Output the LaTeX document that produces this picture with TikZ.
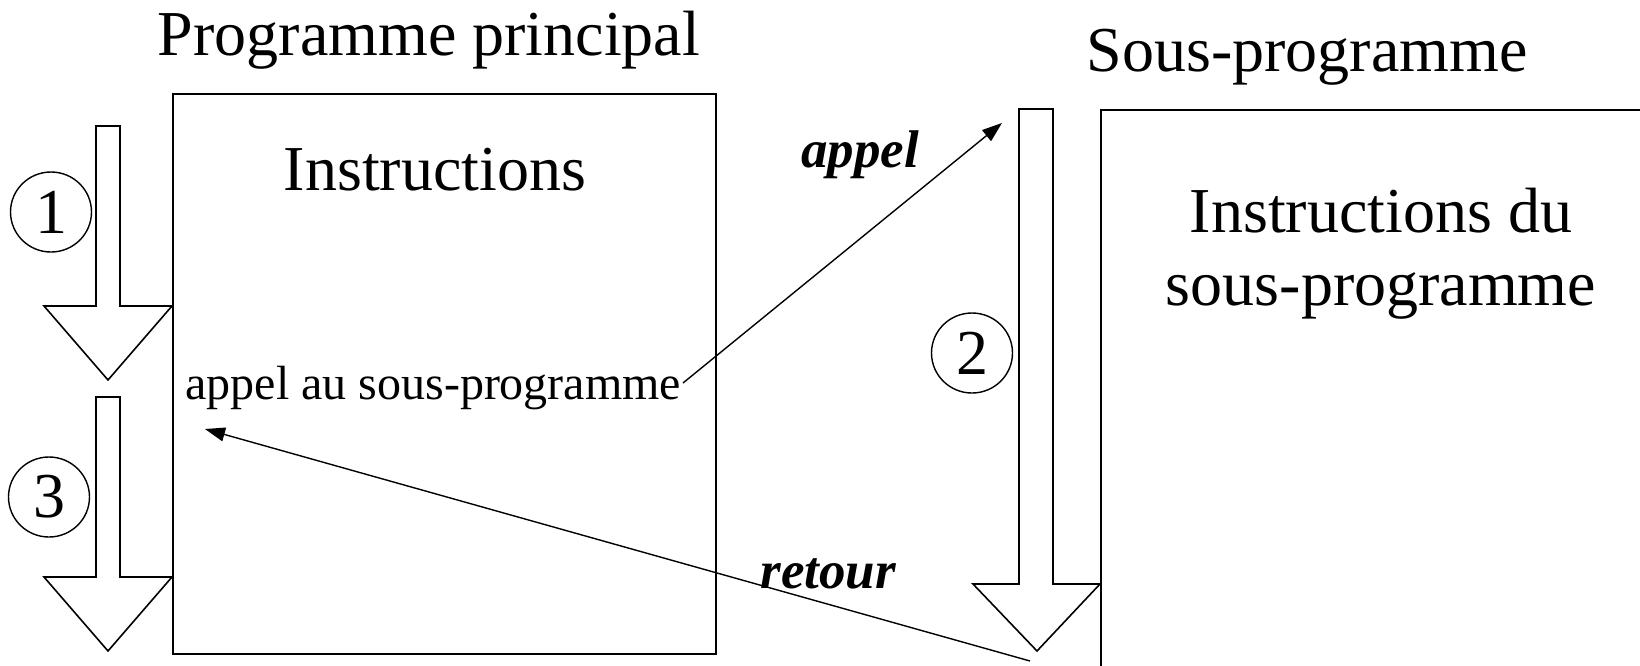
\documentclass[tikz,border=0pt]{standalone}
\usepackage{fontspec}
\setmainfont{Liberation Serif}
\usetikzlibrary{arrows.meta,shapes.geometric}
\begin{document}
\begin{tikzpicture}[x=0.5pt,y=-0.5pt,
  box/.style={draw, line width=1.1pt, inner sep=0pt},
  blockarrow/.style={draw, line width=0.8pt, miter limit=10, fill=white},
  num/.style={draw, ellipse, line width=0.7pt, minimum width=40.5pt, minimum height=40pt, inner sep=0pt, font=\fontsize{32}{32}\selectfont},
  title/.style={font=\fontsize{32}{32}\selectfont, inner sep=0pt, anchor=base},
  arrlabel/.style={font=\fontsize{26.5}{26.5}\selectfont\bfseries\itshape, inner sep=0pt, anchor=base west},
  conn/.style={line width=0.7pt, -{Triangle[length=10pt,width=7pt]}}
]
\useasboundingbox (0,0) rectangle (1640,665);
\clip (0,0) rectangle (1640,665);
% titles
\node[title] (tmain) at (429,55) {Programme principal};
\node[title] (tsub) at (1307,71) {Sous-programme};
% boxes
\node[box, minimum width=271.5pt, minimum height=280pt, anchor=north west] (main) at (172,93) {};
\node[box, minimum width=300pt, minimum height=300pt, anchor=north west] (sub) at (1100,109) {};
% block arrows
\draw[blockarrow] (96,126) -- (120,126) -- (120,306) -- (172,306) -- (108,380) -- (44,306) -- (96,306) -- cycle;
\draw[blockarrow] (96,397) -- (120,397) -- (120,577) -- (172,577) -- (108,651) -- (44,577) -- (96,577) -- cycle;
\draw[blockarrow] (1019,109) -- (1053,109) -- (1053,584) -- (1100,584) -- (1037,651) -- (973,584) -- (1019,584) -- cycle;
% numbers
\node[num] (n1) at (51,212) {1};
\node[num] (n3) at (49,497) {3};
\node[num] (n2) at (972,353) {2};
% texts
\node[title] (instr) at (435,190) {Instructions};
\node[title] (instr2a) at (1381,232) {Instructions du};
\node[title] (instr2b) at (1381,305) {sous-programme};
\node[font=\fontsize{24}{24}\selectfont, inner sep=0pt, anchor=base west] (call) at (185,399) {appel au sous-programme};
\node[arrlabel] (lappel) at (801,167) {appel};
\node[arrlabel] (lretour) at (760,588) {retour};
% connectors
\coordinate (callend) at (683,383);
\coordinate (subtop) at (1002,123);
\coordinate (retstart) at (1030,661);
\coordinate (retend) at (205,429);
\draw[conn] (callend) -- (subtop);
\draw[conn] (retstart) -- (retend);
\end{tikzpicture}
\end{document}
